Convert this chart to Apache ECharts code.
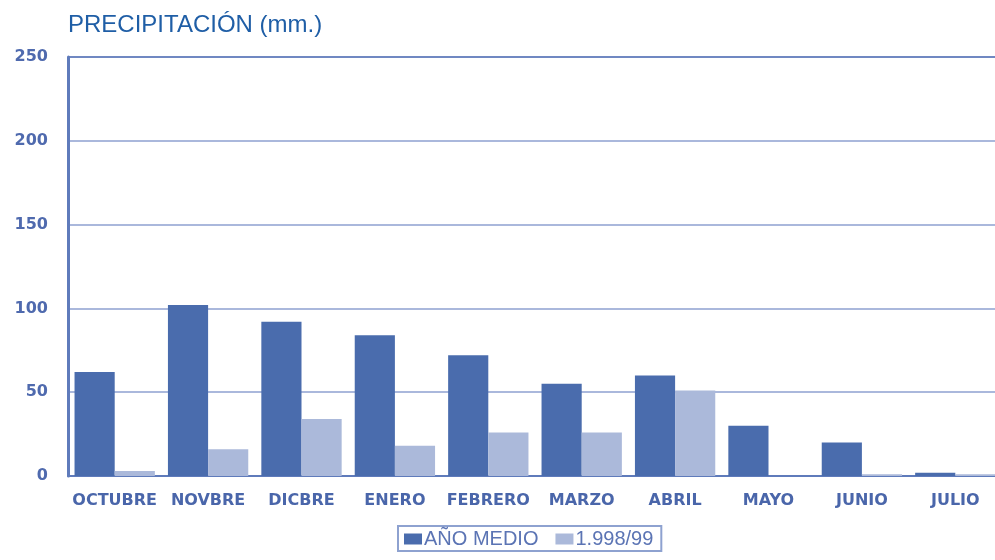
<!DOCTYPE html>
<html>
<head>
<meta charset="utf-8">
<script src="https://cdn.jsdelivr.net/npm/echarts@6/dist/echarts.min.js"></script>
<style>
  html, body { margin: 0; padding: 0; background: #ffffff; }
  #chart { width: 995px; height: 560px; }
</style>
</head>
<body>
<div id="chart"></div>
<script>
// Monthly precipitation (mm), hydrological year October–July
const months = ['OCTUBRE', 'NOVBRE', 'DICBRE', 'ENERO', 'FEBRERO', 'MARZO', 'ABRIL', 'MAYO', 'JUNIO', 'JULIO'];
const anoMedio = [62, 102, 92, 84, 72, 55, 60, 30, 20, 2];
const anio9899 = [3, 16, 34, 18, 26, 26, 51, 0, 1, 1];
const yTicks = { min: 0, max: 250, interval: 50 };

const chart = echarts.init(document.getElementById('chart'), null, { renderer: 'canvas' });

chart.setOption({
  backgroundColor: '#ffffff',
  animation: false,
  title: {
    text: 'PRECIPITACIÓN (mm.)',
    left: 63,
    top: 8,
    textStyle: { color: '#1f5ea6', fontSize: 24, fontWeight: 'normal', fontFamily: 'Liberation Sans, Arial, sans-serif' }
  },
  // plot runs slightly past the right edge of the canvas
  grid: { left: 68, width: 934, top: 57, bottom: 84, containLabel: false, outerBoundsMode: 'none' },
  legend: {
    data: ['AÑO MEDIO', '1.998/99'],
    left: 398,
    top: 526,
    icon: 'rect',
    padding: [3, 8, 2, 6],
    itemGap: 17,
    itemWidth: 18,
    itemHeight: 11,
    itemStyle: { borderWidth: 0 },
    borderColor: '#8ea2d0',
    borderWidth: 2,
    textStyle: { color: '#5b74b4', fontSize: 20, fontFamily: 'Liberation Sans, Arial, sans-serif', padding: [0, 0, 0, -3] }
  },
  xAxis: {
    type: 'category',
    data: months,
    axisLine: { show: true, lineStyle: { color: '#5f7bbb', width: 2 } },
    axisTick: { show: false },
    axisLabel: {
      color: '#4a66aa',
      fontSize: 16,
      fontWeight: 'bold',
      fontFamily: 'DejaVu Sans, sans-serif',
      margin: 17,
      interval: 0
    },
    splitLine: { show: false }
  },
  yAxis: {
    type: 'value',
    min: yTicks.min,
    max: yTicks.max,
    interval: yTicks.interval,
    axisLine: { show: true, lineStyle: { color: '#5f7bbb', width: 3 } },
    axisTick: { show: false },
    axisLabel: {
      color: '#4f6aae',
      fontSize: 16,
      fontWeight: 'bold',
      fontFamily: 'DejaVu Sans, sans-serif',
      margin: 20
    },
    splitLine: {
      show: true,
      lineStyle: { color: ['#aab8dc', '#aab8dc', '#aab8dc', '#aab8dc', '#aab8dc', '#7088c2'], width: 2 }
    }
  },
  series: [
    {
      name: 'AÑO MEDIO',
      type: 'bar',
      data: anoMedio,
      barGap: '0%',
      barCategoryGap: '14%',
      itemStyle: { color: '#4a6cad' }
    },
    {
      name: '1.998/99',
      type: 'bar',
      data: anio9899,
      itemStyle: { color: '#abb9da' }
    }
  ]
});
</script>
</body>
</html>
